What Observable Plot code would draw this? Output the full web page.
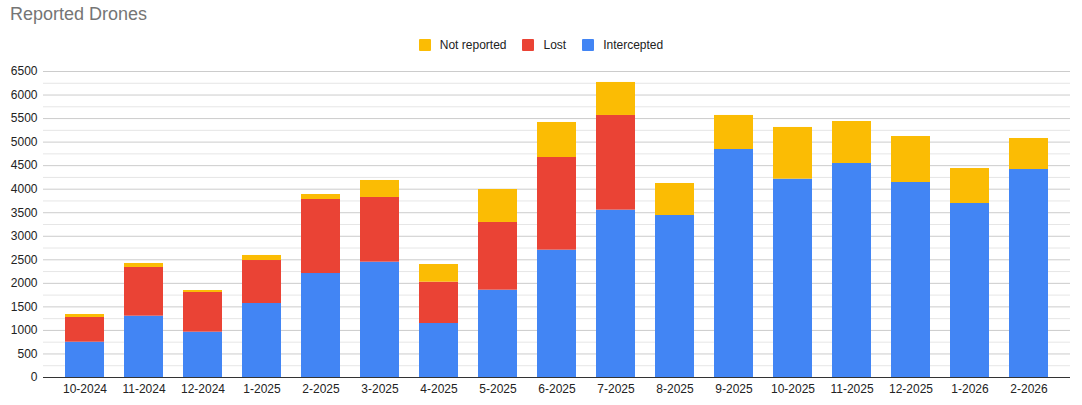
<!DOCTYPE html>
<html><head><meta charset="utf-8">
<script src="https://cdn.jsdelivr.net/npm/d3@7"></script>
<script src="https://cdn.jsdelivr.net/npm/@observablehq/plot@0.6"></script>
<style>
html,body{margin:0;padding:0;background:#fff;}
body{font-family:"Liberation Sans",Arial,Helvetica,sans-serif;width:1082px;height:405px;overflow:hidden;}
#head{position:relative;height:60px;}
#title{position:absolute;left:10px;top:5px;font-size:18px;line-height:18px;color:#757575;}
#legend{position:absolute;left:0;right:0;top:39px;height:12px;display:flex;justify-content:center;align-items:center;font-size:12px;line-height:12px;color:#222;}
.item{display:flex;align-items:center;margin:0 8px;}
.sw{width:12px;height:12px;border-radius:1px;margin-right:9px;}
#chart svg{display:block;}
</style></head><body>
<div id="head">
  <div id="title">Reported Drones</div>
  <div id="legend"></div>
</div>
<div id="chart"></div>
<script>
const months = ["10-2024","11-2024","12-2024","1-2025","2-2025","3-2025","4-2025","5-2025","6-2025","7-2025","8-2025","9-2025","10-2025","11-2025","12-2025","1-2026","2-2026"];
const intercepted = [750,1303,963,1572,2209,2450,1147,1855,2705,3555,3441,4843,4213,4546,4142,3696,4418];
const lost        = [525,1034,843,913,1572,1374,878,1438,1968,2011,0,0,0,0,0,0,0];
const notReported = [63,85,42,107,106,361,375,701,744,701,680,723,1098,892,977,743,659];
const seriesNames = ["Intercepted","Lost","Not reported"];
const seriesColors = ["#4285F4","#EA4335","#FBBC04"];
const legendOrder = ["Not reported","Lost","Intercepted"];
const majorTicks = [0,500,1000,1500,2000,2500,3000,3500,4000,4500,5000,5500,6000,6500];
const minorTicks = [250,750,1250,1750,2250,2750,3250,3750,4250,4750,5250,5750,6250];

const seriesValues = [intercepted, lost, notReported];
const data = [];
months.forEach((m, i) => {
  seriesNames.forEach((s, j) => data.push({month: m, series: s, value: seriesValues[j][i]}));
});

// legend
const leg = document.getElementById("legend");
legendOrder.forEach(s => {
  const it = document.createElement("div");
  it.className = "item";
  const sw = document.createElement("div");
  sw.className = "sw";
  sw.style.background = seriesColors[seriesNames.indexOf(s)];
  const t = document.createElement("span");
  t.textContent = s;
  it.appendChild(sw); it.appendChild(t);
  leg.appendChild(it);
});

const chart = Plot.plot({
  width: 1082,
  height: 345,
  marginTop: 11,
  marginBottom: 28,
  marginLeft: 43,
  marginRight: 12,
  style: {fontFamily: '"Liberation Sans", Arial, sans-serif', fontSize: "12px", color: "#222", background: "#fff"},
  x: {type: "band", domain: months, padding: 0.34, label: null, tickSize: 0, tickPadding: 7},
  y: {domain: [0, 6500], ticks: majorTicks, tickFormat: d => String(d), label: null, tickSize: 0, tickPadding: 6},
  color: {domain: seriesNames, range: seriesColors},
  marks: [
    Plot.ruleY(minorTicks, {stroke: "#e6e6e6", strokeWidth: 1}),
    Plot.ruleY(majorTicks.filter(d => d > 0), {stroke: "#cccccc", strokeWidth: 1}),
    Plot.barY(data, Plot.stackY({x: "month", y: "value", fill: "series", order: seriesNames})),
    Plot.ruleY([0], {stroke: "#333", strokeWidth: 1})
  ]
});
document.getElementById("chart").appendChild(chart);
</script>
</body></html>
